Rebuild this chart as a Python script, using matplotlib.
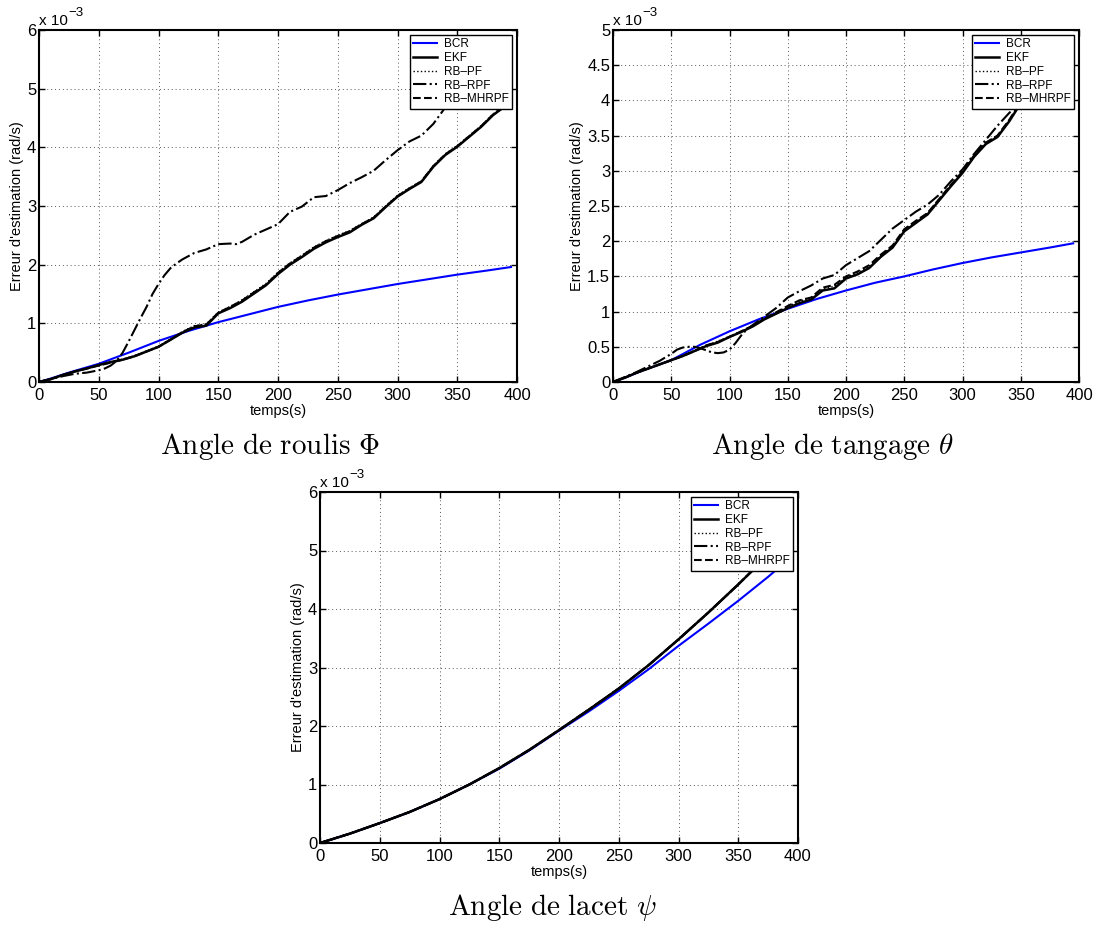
import matplotlib
matplotlib.use('Agg')
import matplotlib.pyplot as plt
import numpy as np
from matplotlib.ticker import FuncFormatter

plt.rcParams['font.family'] = ['Liberation Sans', 'DejaVu Sans']
plt.rcParams['mathtext.fontset'] = 'cm'

# ---- data (values in units of 1e-3 rad/s) ----
series_names = ['BCR', 'EKF', 'RB–PF', 'RB–RPF', 'RB–MHRPF']

# common time grid for the filter curves (s)
t_filter = [0, 10, 20, 30, 40, 50, 60, 70, 80, 90, 100, 110, 120, 130, 140, 150, 160, 170, 180, 190,
            200, 210, 220, 230, 240, 250, 260, 270, 280, 290, 300, 310, 320, 330, 340, 350, 360,
            370, 380, 390, 395]

# Angle de roulis
t_roll_bcr = [0, 10, 25, 50, 75, 100, 125, 150, 175, 200, 225, 250, 275, 300, 325, 350, 375, 395]
roll_bcr = [0, 0.06, 0.16, 0.31, 0.5, 0.7, 0.87, 1.02, 1.15, 1.28, 1.39, 1.49, 1.58, 1.67, 1.75, 1.83, 1.9, 1.96]
roll_ekf = [0, 0.05, 0.12, 0.18, 0.23, 0.29, 0.34, 0.38, 0.44, 0.52, 0.6, 0.72, 0.84, 0.93, 0.96, 1.17, 1.26,
            1.37, 1.51, 1.65, 1.84, 2.0, 2.13, 2.27, 2.38, 2.47, 2.55, 2.68, 2.79, 2.98, 3.16, 3.29, 3.41,
            3.67, 3.87, 4.01, 4.18, 4.35, 4.55, 4.7, 4.81]
roll_pf = [0, 0.05, 0.12, 0.18, 0.23, 0.29, 0.34, 0.39, 0.45, 0.53, 0.61, 0.73, 0.86, 0.96, 0.99, 1.19, 1.29,
           1.4, 1.54, 1.68, 1.87, 2.03, 2.16, 2.3, 2.41, 2.5, 2.58, 2.7, 2.81, 3.0, 3.18, 3.31, 3.43,
           3.69, 3.89, 4.03, 4.2, 4.37, 4.57, 4.72, 4.83]
roll_mhrpf = [0, 0.05, 0.12, 0.18, 0.23, 0.28, 0.33, 0.38, 0.44, 0.52, 0.6, 0.72, 0.85, 0.95, 0.98, 1.18, 1.28,
              1.39, 1.53, 1.66, 1.86, 2.02, 2.15, 2.29, 2.4, 2.49, 2.57, 2.69, 2.8, 2.99, 3.17, 3.3, 3.42,
              3.68, 3.88, 4.02, 4.19, 4.36, 4.56, 4.71, 4.82]
t_roll_rpf = [0, 10, 20, 30, 40, 50, 55, 60, 65, 70, 75, 80, 85, 90, 95, 100, 105, 110, 115, 120, 130, 140,
              150, 160, 165, 170, 180, 190, 200, 210, 220, 230, 240, 250, 260, 270, 280, 290, 300, 310,
              320, 330, 340, 350, 360, 370, 380, 395]
roll_rpf = [0, 0.05, 0.1, 0.14, 0.16, 0.2, 0.23, 0.28, 0.36, 0.5, 0.69, 0.89, 1.09, 1.28, 1.5, 1.67, 1.82,
            1.94, 2.02, 2.09, 2.2, 2.26, 2.35, 2.36, 2.35, 2.39, 2.51, 2.6, 2.69, 2.9, 2.99, 3.15, 3.17,
            3.27, 3.39, 3.49, 3.6, 3.78, 3.95, 4.1, 4.2, 4.4, 4.68, 4.9, 5.05, 5.2, 5.35, 5.55]

# Angle de tangage
t_pitch_bcr = [0, 10, 25, 50, 75, 100, 125, 150, 175, 200, 225, 250, 275, 300, 325, 350, 375, 395]
pitch_bcr = [0, 0.06, 0.16, 0.31, 0.53, 0.72, 0.89, 1.04, 1.18, 1.3, 1.41, 1.5, 1.6, 1.69, 1.77, 1.84, 1.91, 1.97]
pitch_ekf = [0, 0.06, 0.13, 0.19, 0.25, 0.31, 0.37, 0.44, 0.51, 0.56, 0.64, 0.71, 0.79, 0.89, 0.97, 1.05, 1.12,
             1.17, 1.3, 1.33, 1.47, 1.53, 1.62, 1.78, 1.91, 2.14, 2.26, 2.38, 2.58, 2.78, 2.97, 3.2, 3.38,
             3.48, 3.7, 3.96, 4.18, 4.35, 4.5, 4.65, 4.72]
pitch_pf = [0, 0.06, 0.13, 0.19, 0.25, 0.31, 0.37, 0.45, 0.52, 0.58, 0.65, 0.72, 0.8, 0.9, 0.98, 1.07, 1.15,
            1.19, 1.32, 1.36, 1.49, 1.55, 1.64, 1.8, 1.93, 2.16, 2.28, 2.4, 2.6, 2.8, 2.99, 3.22, 3.4,
            3.5, 3.72, 3.98, 4.2, 4.37, 4.52, 4.67, 4.74]
pitch_mhrpf = [0, 0.06, 0.13, 0.19, 0.25, 0.31, 0.37, 0.44, 0.52, 0.57, 0.64, 0.72, 0.8, 0.9, 0.99, 1.08, 1.16,
               1.2, 1.34, 1.38, 1.5, 1.57, 1.66, 1.81, 1.94, 2.17, 2.29, 2.4, 2.6, 2.8, 2.99, 3.22, 3.4,
               3.5, 3.72, 3.98, 4.2, 4.37, 4.52, 4.67, 4.74]
t_pitch_rpf = [0, 10, 20, 30, 40, 50, 55, 60, 65, 70, 75, 80, 85, 90, 95, 100, 105, 110, 115, 120, 130, 140,
               150, 160, 170, 180, 190, 200, 210, 220, 230, 240, 250, 260, 270, 280, 290, 300, 310, 320,
               330, 340, 350, 360, 370, 380, 395]
pitch_rpf = [0, 0.07, 0.14, 0.22, 0.3, 0.4, 0.46, 0.49, 0.5, 0.5, 0.48, 0.45, 0.42, 0.41, 0.42, 0.46, 0.55,
             0.66, 0.75, 0.81, 0.93, 1.05, 1.2, 1.29, 1.37, 1.47, 1.52, 1.66, 1.76, 1.86, 2.02, 2.18, 2.3,
             2.42, 2.52, 2.66, 2.85, 3.02, 3.24, 3.44, 3.64, 3.82, 3.98, 4.15, 4.33, 4.5, 4.78]

# Angle de lacet
t_yaw = [0, 25, 50, 75, 100, 125, 150, 175, 200, 225, 250, 275, 300, 325, 350, 375, 395]
yaw_bcr = [0, 0.16, 0.34, 0.53, 0.75, 1.0, 1.27, 1.58, 1.92, 2.25, 2.6, 2.97, 3.37, 3.75, 4.14, 4.55, 4.9]
yaw_ekf = [0, 0.16, 0.34, 0.53, 0.75, 1.0, 1.28, 1.59, 1.93, 2.28, 2.64, 3.04, 3.48, 3.94, 4.42, 4.92, 5.35]
yaw_pf = [0, 0.16, 0.34, 0.53, 0.75, 1.0, 1.28, 1.59, 1.93, 2.28, 2.64, 3.04, 3.48, 3.94, 4.42, 4.92, 5.35]
yaw_rpf = [0, 0.16, 0.34, 0.53, 0.75, 1.0, 1.28, 1.59, 1.93, 2.28, 2.64, 3.04, 3.48, 3.94, 4.42, 4.92, 5.35]
yaw_mhrpf = [0, 0.16, 0.34, 0.53, 0.75, 1.0, 1.28, 1.59, 1.93, 2.28, 2.64, 3.04, 3.48, 3.94, 4.42, 4.92, 5.35]

panels = [
    dict(rect=[39, 30, 478, 352], ymax=6, ystep=1,
         curves=[(t_roll_bcr, roll_bcr), (t_filter, roll_ekf), (t_filter, roll_pf),
                 (t_roll_rpf, roll_rpf), (t_filter, roll_mhrpf)],
         caption=r'$\mathrm{Angle\ de\ roulis}\ \Phi$', cap_xy=(270, 454)),
    dict(rect=[613, 30, 466, 352], ymax=5, ystep=0.5,
         curves=[(t_pitch_bcr, pitch_bcr), (t_filter, pitch_ekf), (t_filter, pitch_pf),
                 (t_pitch_rpf, pitch_rpf), (t_filter, pitch_mhrpf)],
         caption=r'$\mathrm{Angle\ de\ tangage}\ \theta$', cap_xy=(832, 454)),
    dict(rect=[320, 492, 478, 351], ymax=6, ystep=1,
         curves=[(t_yaw, yaw_bcr), (t_yaw, yaw_ekf), (t_yaw, yaw_pf),
                 (t_yaw, yaw_rpf), (t_yaw, yaw_mhrpf)],
         caption=r'$\mathrm{Angle\ de\ lacet}\ \psi$', cap_xy=(552, 915)),
]

styles = [
    dict(color='#0000ff', linestyle='-', linewidth=1.5),
    dict(color='black', linestyle='-', linewidth=1.8),
    dict(color='black', linestyle=':', linewidth=1.0),
    dict(color='black', linestyle='-.', linewidth=1.5),
    dict(color='black', linestyle='--', linewidth=1.5),
]

W, H = 1094, 925
fig = plt.figure(figsize=(W / 100, H / 100), dpi=100)

for p in panels:
    x0, y0, w, h = p['rect']
    ax = fig.add_axes([x0 / W, 1 - (y0 + h) / H, w / W, h / H])
    for (t, v), name, st in zip(p['curves'], series_names, styles):
        ax.plot(t, v, label=name, **st)

    ax.set_xlim(0, 400)
    ax.set_ylim(0, p['ymax'])
    ax.set_xticks(np.arange(0, 401, 50))
    ax.set_yticks(np.arange(0, p['ymax'] + 1e-9, p['ystep']))
    ax.yaxis.set_major_formatter(FuncFormatter(lambda v, pos: f'{v:g}'))
    ax.tick_params(direction='in', top=True, right=True, length=4, width=1, labelsize=12)
    ax.tick_params(axis='x', pad=4)
    ax.tick_params(axis='y', pad=2)
    for s in ax.spines.values():
        s.set_linewidth(1.5)
    ax.grid(True, linestyle=(0, (1, 3)), color='0.35', linewidth=0.7)
    ax.set_axisbelow(True)

    ax.set_xlabel('temps(s)', fontsize=10.5, labelpad=1)
    ax.set_ylabel("Erreur d'estimation (rad/s)", fontsize=10.5, labelpad=2)

    # MATLAB style exponent label
    ax.annotate('x 10', xy=(0, 1), xycoords='axes fraction', xytext=(0, 3.4),
                textcoords='offset points', ha='left', va='baseline', fontsize=11)
    ax.annotate('\u22123', xy=(0, 1), xycoords='axes fraction', xytext=(21.5, 10),
                textcoords='offset points', ha='left', va='baseline', fontsize=9.5)

    leg = ax.legend(loc='upper right', fontsize=8.5, fancybox=False, framealpha=1,
                    edgecolor='black', borderaxespad=0.4, labelspacing=0.15,
                    handlelength=2.0, handletextpad=0.6, borderpad=0.3)
    leg.get_frame().set_linewidth(1.0)

    cx, cy = p['cap_xy']
    fig.text(cx / W, 1 - cy / H, p['caption'], fontsize=21, ha='center', va='baseline')

fig.savefig('out.png', dpi=100)
